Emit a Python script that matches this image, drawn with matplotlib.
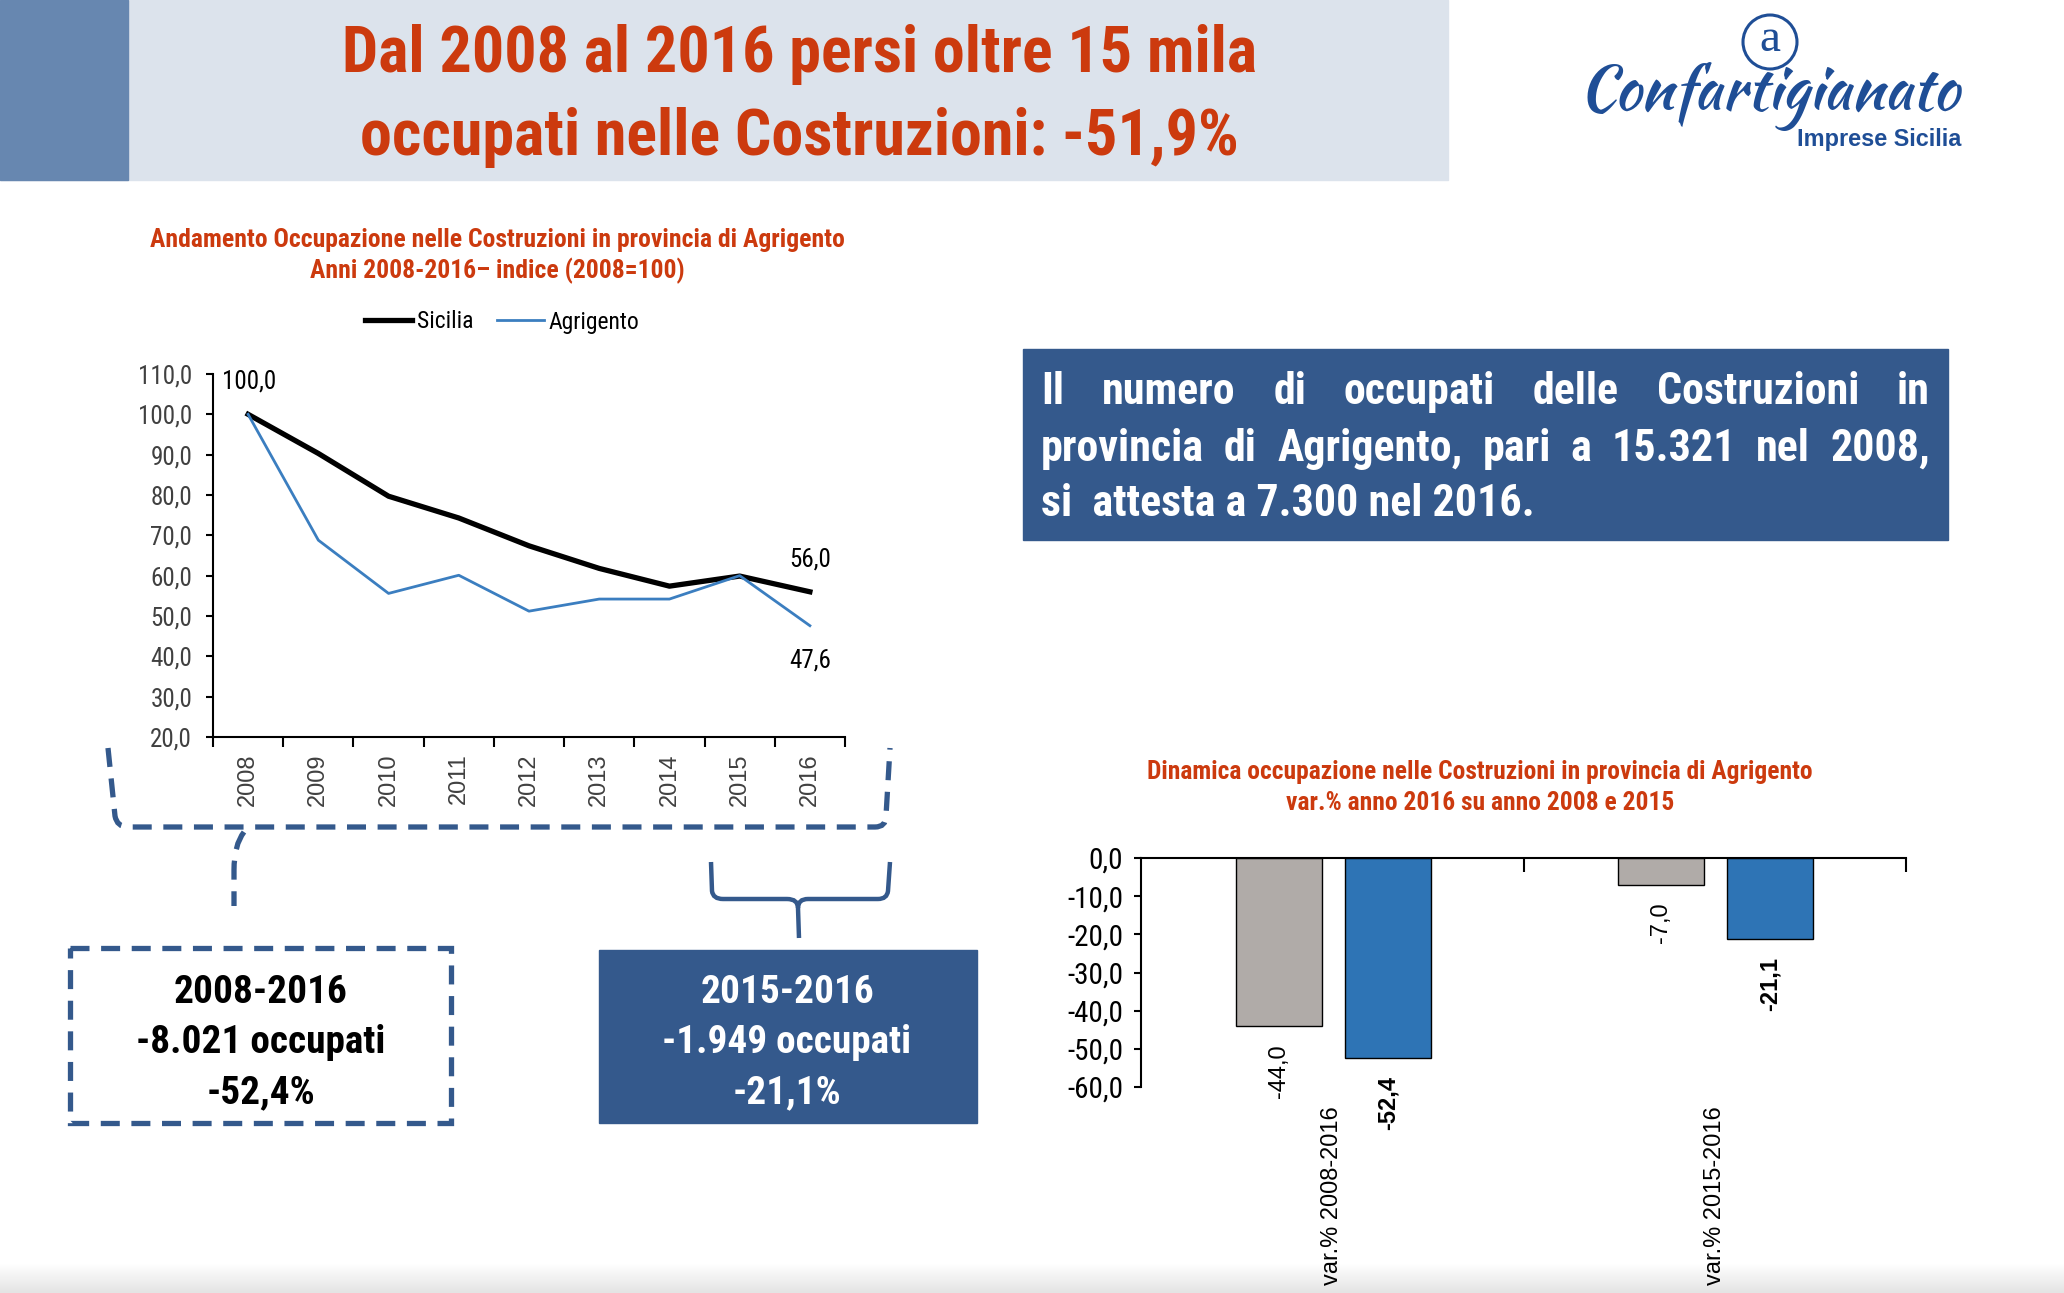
import numpy as np
import matplotlib as mpl
mpl.use('Agg')
import matplotlib.pyplot as plt
from matplotlib.patches import Rectangle, Circle, PathPatch
from matplotlib.path import Path
from matplotlib.ticker import FixedLocator

# fonts
NARROW = ['Roboto Condensed', 'DejaVu Sans']
SANS = ['Liberation Sans', 'DejaVu Sans']
SERIF = ['Liberation Serif', 'DejaVu Serif']
SCRIPT = ['Kaushan Script', 'Yellowtail', 'Alex Brush', 'Liberation Serif']

# colours
RED = '#CC3A0E'
BOX = '#34598C'
LOGO = '#1F4E96'

# data: index of employment (2008=100)
years = ['2008', '2009', '2010', '2011', '2012', '2013', '2014', '2015', '2016']
sicilia = [100.0, 90.3, 79.7, 74.3, 67.4, 61.8, 57.4, 59.9, 56.0]
agrigento = [100.0, 68.8, 55.6, 60.1, 51.2, 54.2, 54.2, 60.0, 47.6]

# data: var.% of 2016 on 2008 and 2015
groups = ['var.% 2008-2016', 'var.% 2015-2016']
var_sicilia = [-44.0, -7.0]
var_agrigento = [-52.4, -21.1]

W, H = 2064, 1293
fig = plt.figure(figsize=(W / 100, H / 100), dpi=100)
renderer = fig.canvas.get_renderer()

# overlay axes in pixel coordinates (y down)
ov = fig.add_axes([0, 0, 1, 1])
ov.set_zorder(0)
ov.axis('off')


def fit(t, width):
    w = t.get_window_extent(renderer).width
    t.set_fontsize(t.get_fontsize() * width / w)
    return t.get_fontsize()


def px_axes(l, t, r, b):
    a = fig.add_axes([l / W, 1 - b / H, (r - l) / W, (b - t) / H])
    a.patch.set_alpha(0)
    a.set_zorder(2)
    return a


def comma(v):
    return ('%.1f' % v).replace('.', ',')


# bottom gradient
grad = np.linspace(0, 1, 30).reshape(-1, 1)
ov.imshow(grad, extent=(0, W, H, H - 30), aspect='auto',
          cmap=mpl.colors.LinearSegmentedColormap.from_list('g', ['#FFFFFF', '#E4E4E4']))

# header band
ov.add_patch(Rectangle((0, 0), 1448, 180, color='#DCE3EC'))
ov.add_patch(Rectangle((0, 0), 128, 180, color='#6787B0'))
t = ov.text(799, 72, 'Dal 2008 al 2016 persi oltre 15 mila', ha='center', va='baseline',
            color=RED, weight='bold', family=NARROW, size=50)
s = fit(t, 915)
ov.text(799, 155, 'occupati nelle Costruzioni: -51,9%', ha='center', va='baseline',
        color=RED, weight='bold', family=NARROW, size=s)

# logo
ov.add_patch(Circle((1770, 42), 27, fill=False, ec=LOGO, lw=2.2))
ov.text(1770, 40, 'a', ha='center', va='center', color=LOGO, family=SERIF, size=34)
t = ov.text(1769, 109, 'Confartigianato', ha='center', va='baseline', color=LOGO,
            family=SCRIPT, weight='bold', size=40)
fit(t, 380)
t = ov.text(1961, 146, 'Imprese Sicilia', ha='right', va='baseline', color=LOGO,
            family=SANS, weight='bold', size=16)
fit(t, 164)

# chart titles
t = ov.text(497, 247, 'Andamento Occupazione nelle Costruzioni in provincia di Agrigento',
            ha='center', va='baseline', color=RED, weight='bold', family=NARROW, size=16)
s = fit(t, 693)
ov.text(497, 278, 'Anni 2008-2016\u2013 indice (2008=100)', ha='center', va='baseline',
        color=RED, weight='bold', family=NARROW, size=s)
t = ov.text(1480, 779, 'Dinamica occupazione nelle Costruzioni in provincia di Agrigento',
            ha='center', va='baseline', color=RED, weight='bold', family=NARROW, size=16)
s = fit(t, 666)
ov.text(1480, 810, 'var.% anno 2016 su anno 2008 e 2015', ha='center', va='baseline',
        color=RED, weight='bold', family=NARROW, size=s)

# blue paragraph box, justified text
ov.add_patch(Rectangle((1023, 349), 925, 191, color=BOX))
para = ['Il numero di occupati delle Costruzioni in',
        'provincia di Agrigento, pari a 15.321 nel 2008,']
t = ov.text(1041, 516, 'si  attesta a 7.300 nel 2016.', ha='left', va='baseline',
            color='white', weight='bold', family=NARROW, size=30)
s = fit(t, 493)
for line, y in zip(para, [404, 461]):
    ws = line.split()
    ts = [ov.text(0, y, w, ha='left', va='baseline', color='white', weight='bold',
                  family=NARROW, size=s) for w in ws]
    widths = [tt.get_window_extent(renderer).width for tt in ts]
    gap = (1930 - 1041 - sum(widths)) / (len(ws) - 1)
    x = 1041
    for tt, w in zip(ts, widths):
        tt.set_x(x)
        x += w + gap

# summary boxes
dash = (0, (3.6, 2.2))
ov.add_patch(Rectangle((70, 948), 381, 175, fill=False, ec=BOX, lw=3.8, ls=dash))
ov.add_patch(Rectangle((599, 950), 378, 173, color=BOX))
box_l = ['2008-2016', '-8.021 occupati', '-52,4%']
box_r = ['2015-2016', '-1.949 occupati', '-21,1%']
for lines, cx, col in [(box_l, 261, 'black'), (box_r, 787, 'white')]:
    t = ov.text(cx, 1053, lines[1], ha='center', va='baseline', color=col,
                weight='bold', family=NARROW, size=30)
    s = fit(t, 249)
    ov.text(cx, 1003, lines[0], ha='center', va='baseline', color=col,
            weight='bold', family=NARROW, size=s)
    ov.text(cx, 1103, lines[2], ha='center', va='baseline', color=col,
            weight='bold', family=NARROW, size=s)

# brackets
M, L, C = Path.MOVETO, Path.LINETO, Path.CURVE3
br = Path([(108, 748), (115, 816), (117, 827), (128, 827), (875, 827),
           (886, 827), (886, 816), (890, 748)],
          [M, L, C, C, L, C, C, L])
ov.add_patch(PathPatch(br, fill=False, ec=BOX, lw=3.8, ls=dash))
br2 = Path([(244, 832), (234, 845), (234, 870), (234, 906)], [M, C, C, L])
ov.add_patch(PathPatch(br2, fill=False, ec=BOX, lw=3.8, ls=dash))
brace = Path([(711, 862), (712, 891), (713, 899), (723, 899), (787, 899),
              (798, 899), (798, 908), (799, 938),
              (890, 862), (888, 891), (887, 899), (878, 899), (808, 899),
              (798, 899), (798, 908)],
             [M, L, C, C, L, C, C, L, M, L, C, C, L, C, C])
ov.add_patch(PathPatch(brace, fill=False, ec=BOX, lw=3.2))

ov.set_xlim(0, W)
ov.set_ylim(H, 0)

# line chart
ax1 = px_axes(213, 374, 845, 737)
x = np.arange(len(years))
ax1.plot(x, sicilia, color='black', lw=3.8, label='Sicilia')
ax1.plot(x, agrigento, color='#3B7EC0', lw=2.0, label='Agrigento')
ax1.set_xlim(-0.5, len(years) - 0.5)
ax1.set_ylim(20, 110)
yt = np.arange(20, 111, 10)
ax1.set_yticks(yt, [comma(v) for v in yt], family=NARROW, size=18, color='#404040')
ax1.set_xticks(x, years, rotation=90, family=SANS, size=17, color='#404040')
ax1.xaxis.set_minor_locator(FixedLocator(np.arange(-0.5, len(years), 1)))
ax1.tick_params(axis='x', which='major', length=0, pad=12)
ax1.tick_params(axis='x', which='minor', length=7, width=1.5, direction='out')
ax1.tick_params(axis='y', length=5, width=1.5, pad=10)
for sp in ['top', 'right']:
    ax1.spines[sp].set_visible(False)
for sp in ['left', 'bottom']:
    ax1.spines[sp].set_linewidth(1.5)
lab = dict(textcoords='offset points', ha='center', va='center', family=NARROW, size=18)
ax1.annotate(comma(sicilia[0]), (0, sicilia[0]), xytext=(1, 24), **lab)
ax1.annotate(comma(sicilia[-1]), (x[-1], sicilia[-1]), xytext=(0, 23), **lab)
ax1.annotate(comma(agrigento[-1]), (x[-1], agrigento[-1]), xytext=(0, -25), **lab)
fig.legend(loc='center', bbox_to_anchor=(502 / W, 1 - 322 / H), ncol=2, frameon=False,
           prop={'family': NARROW, 'size': 17}, handlelength=2.0, handletextpad=0.2,
           columnspacing=1.0)

# bar chart
ax2 = px_axes(1141, 858, 1906, 1087)
x2 = np.arange(len(groups))
ax2.bar(x2 - 0.14, var_sicilia, width=0.224, color='#B0ABA8', edgecolor='black', lw=1)
ax2.bar(x2 + 0.145, var_agrigento, width=0.224, color='#2E74B5', edgecolor='black', lw=1)
ax2.set_xlim(-0.5, len(groups) - 0.5)
ax2.set_ylim(-60, 0)
yt2 = np.arange(-60, 1, 10)
ax2.set_yticks(yt2, [comma(v) for v in yt2], family=NARROW, size=21)
ax2.set_xticks(x2, groups, rotation=90, family=SANS, size=17)
ax2.xaxis.set_minor_locator(FixedLocator([0.5, 1.5]))
ax2.tick_params(axis='x', which='major', length=0, pad=14)
ax2.tick_params(axis='x', which='minor', bottom=False, top=True, direction='in',
                length=10, width=1.5)
ax2.tick_params(axis='y', length=5, width=1.5, pad=8)
for sp in ['bottom', 'right']:
    ax2.spines[sp].set_visible(False)
for sp in ['left', 'top']:
    ax2.spines[sp].set_linewidth(1.5)
for xi, v in zip(x2 - 0.14, var_sicilia):
    ax2.annotate(comma(v), (xi, v), xytext=(0, -13), textcoords='offset points',
                 rotation=90, ha='center', va='top', family=SANS, size=17)
for xi, v in zip(x2 + 0.145, var_agrigento):
    ax2.annotate(comma(v), (xi, v), xytext=(0, -13), textcoords='offset points',
                 rotation=90, ha='center', va='top', family=SANS, size=17, weight='bold')

fig.savefig('out.png', dpi=100)
